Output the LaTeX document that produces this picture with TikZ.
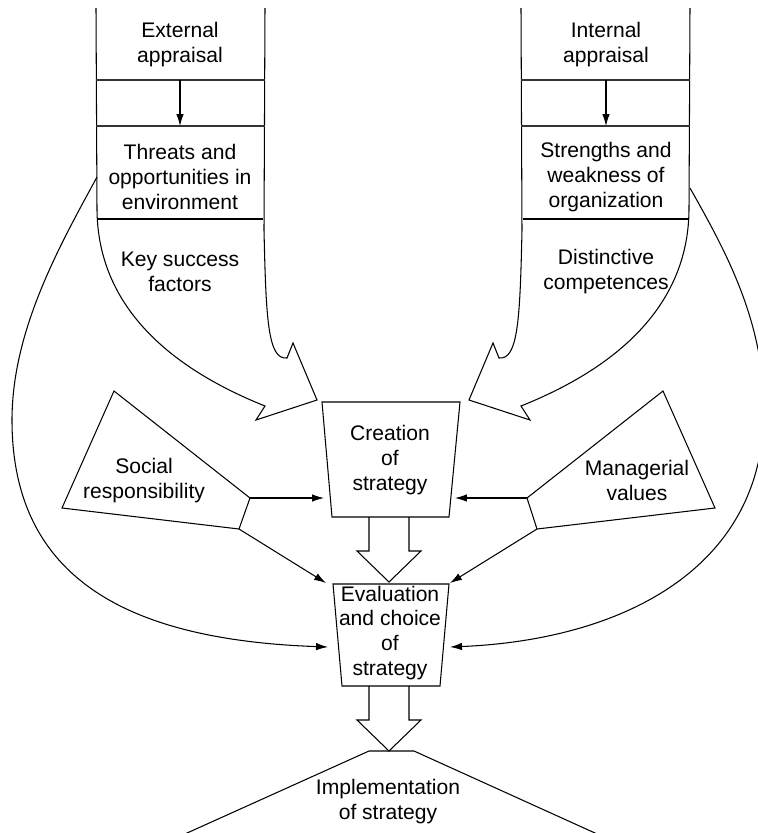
\documentclass[tikz,border=0pt]{standalone}
\usepackage{fontspec}
\setmainfont{Liberation Sans}
\usetikzlibrary{arrows.meta}

\tikzset{
    lbl/.style={align=center, inner sep=0pt, font=\fontsize{12}{14.2}\selectfont},
    arr/.style={-{Latex[length=6.8pt,width=4.3pt]}},
    divider/.style={line width=1pt, black!80},
}

\begin{document}
\begin{tikzpicture}[x=0.02cm, y=-0.02cm, line width=0.6pt]
    \useasboundingbox (0,0) rectangle (758,833);
    \clip (0,0) rectangle (758,833);

    \begin{scope}
      \draw (96,8) -- (97,210) .. controls (98,310) and (175,370) .. (265,406)
        -- (256,420) -- (317,400) -- (293,343) -- (287,358)
        .. controls (268,360) and (266,320) .. (264,230) -- (265,8);
      \foreach \y in {80,126}
        \draw[divider] (96,\y) -- (265,\y);
      \draw (97,219) -- (263,219);
      \coordinate (ext-a) at (180,80);
      \coordinate (ext-b) at (180,126);
      \coordinate (ext-out) at (97,177);
    \end{scope}

    \begin{scope}[shift={(786,0)}, xscale=-1]
      \draw (96,8) -- (97,210) .. controls (98,310) and (175,370) .. (265,406)
        -- (256,420) -- (317,400) -- (293,343) -- (287,358)
        .. controls (268,360) and (266,320) .. (264,230) -- (265,8);
      \foreach \y in {80,126}
        \draw[divider] (96,\y) -- (265,\y);
      \draw (97,219) -- (263,219);
      \coordinate (int-a) at (180,80);
      \coordinate (int-b) at (180,126);
      \coordinate (int-out) at (96,188);
    \end{scope}

    \draw[arr] (ext-a) -- (ext-b);
    \draw[arr] (int-a) -- (int-b);

    \node[lbl] (ext) at (180,45) {External\\appraisal};
    \node[lbl] (threats) at (180,177) {Threats and\\opportunities in\\environment};
    \node[lbl] (ksf) at (180,272) {Key success\\factors};
    \node[lbl] (int) at (606,45) {Internal\\appraisal};
    \node[lbl] (strengths) at (606,177) {Strengths and\\weakness of\\organization};
    \node[lbl] (distinct) at (606,272) {Distinctive\\competences};

    \coordinate (soc-a) at (250,498);
    \coordinate (soc-b) at (239,529);
    \draw (114,391) -- (soc-a) -- (soc-b) -- (62,508) -- cycle;
    \node[lbl] (social) at (144,481) {Social\\responsibility};

    \coordinate (man-a) at (527,498);
    \coordinate (man-b) at (537,529);
    \draw (663,391) -- (man-a) -- (man-b) -- (715,508) -- cycle;
    \node[lbl] (managerial) at (637,480) {Managerial\\values};

    \draw (322,402) -- (460,402) -- (449,517) -- (332,517) -- cycle;
    \node[lbl] (creation) at (390,460) {Creation\\of\\strategy};
    \coordinate (cre-w) at (324,498);
    \coordinate (cre-e) at (455,498);

    \draw (333,584) -- (449,584) -- (440,686) -- (342,686) -- cycle;
    \node[lbl] (evaluation) at (390,633) {Evaluation\\and choice\\of\\strategy};
    \coordinate (eva-nw) at (326,583);
    \coordinate (eva-ne) at (450,583);
    \coordinate (eva-w) at (328,647);
    \coordinate (eva-e) at (450,647);

    \foreach \y in {517,686}
      \draw (369,\y) -- (369,\y+34) -- (357,\y+34) -- (389,\y+65)
        -- (421,\y+34) -- (409,\y+34) -- (409,\y);

    \draw (176,838) -- (369,751) -- (414,751) -- (606,838);
    \node[lbl] (implementation) at (388,802) {Implementation\\of strategy};

    \draw[arr] (soc-a) -- (cre-w);
    \draw[arr] (soc-b) -- (eva-nw);
    \draw[arr] (man-a) -- (cre-e);
    \draw[arr] (man-b) -- (eva-ne);

    \draw[arr] (ext-out) .. controls (60,245) and (12,330) .. (12,420)
      .. controls (12,580) and (130,640) .. (eva-w);
    \draw[arr] (int-out) .. controls (725,250) and (764,320) .. (764,410)
      .. controls (764,570) and (620,640) .. (eva-e);
\end{tikzpicture}
\end{document}
